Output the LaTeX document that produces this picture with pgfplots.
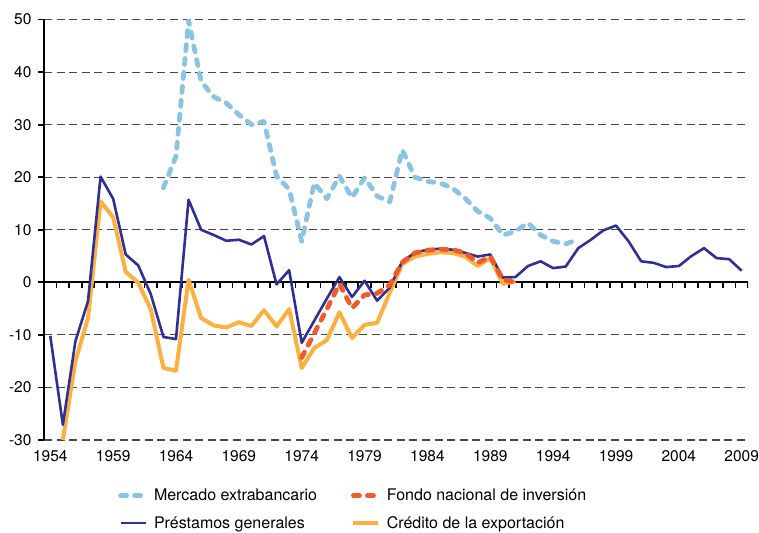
\documentclass[border=0pt]{standalone}
\usepackage{fontspec}
\setmainfont{TeX Gyre Heros}
\usepackage{pgfplots}
\pgfplotsset{compat=1.18}
\definecolor{cNavy}{HTML}{2E3192}
\definecolor{cOrange}{HTML}{FBB040}
\definecolor{cSky}{HTML}{8BC4E2}
\definecolor{cRed}{HTML}{F15A29}
\pgfplotstableread{
year val
1954 -10.2
1955 -27.1
1956 -11.2
1957 -3.6
1958 20.1
1959 15.9
1960 5.3
1961 3.2
1962 -2.3
1963 -10.4
1964 -10.8
1965 15.7
1966 10.0
1967 9.0
1968 7.9
1969 8.1
1970 7.2
1971 8.8
1972 -0.4
1973 2.3
1974 -11.5
1975 -7.3
1976 -3.1
1977 1.0
1978 -2.8
1979 0.3
1980 -3.5
1981 -1.0
1982 4.0
1983 5.6
1984 6.2
1985 6.4
1986 6.2
1987 5.6
1988 4.9
1989 5.3
1990 0.9
1991 1.0
1992 3.1
1993 4.0
1994 2.7
1995 3.0
1996 6.5
1997 8.1
1998 9.9
1999 10.8
2000 7.8
2001 4.0
2002 3.7
2003 2.9
2004 3.1
2005 5.0
2006 6.5
2007 4.6
2008 4.4
2009 2.2
}\prestamos
\pgfplotstableread{
year val
1955 -30.0
1956 -15.0
1957 -6.8
1958 15.4
1959 12.4
1960 2.0
1961 -0.1
1962 -5.2
1963 -16.3
1964 -16.8
1965 0.5
1966 -6.8
1967 -8.2
1968 -8.6
1969 -7.6
1970 -8.3
1971 -5.3
1972 -8.4
1973 -5.1
1974 -16.3
1975 -12.5
1976 -11.0
1977 -5.7
1978 -10.6
1979 -8.1
1980 -7.7
1981 -2.0
1982 3.5
1983 4.9
1984 5.4
1985 5.7
1986 5.6
1987 4.9
1988 3.1
1989 4.6
1990 -0.3
1991 0.2
}\credito
\pgfplotstableread{
year val
1974 -14.3
1975 -9.7
1976 -5.1
1977 -0.3
1978 -4.9
1979 -2.4
1980 -2.1
1981 -0.5
1982 3.8
1983 5.6
1984 6.1
1985 6.3
1986 6.2
1987 5.6
1988 3.7
1989 4.9
1990 0.5
1991 0.0
}\fondo
\pgfplotstableread{
year val
1963 18.0
1964 24.0
1965 49.8
1966 38.2
1967 35.3
1968 34.1
1969 31.9
1970 30.0
1971 30.6
1972 20.2
1973 17.7
1974 7.8
1975 18.9
1976 15.9
1977 20.2
1978 16.1
1979 19.9
1980 16.4
1981 15.3
1982 25.2
1983 20.0
1984 19.2
1985 18.9
1986 17.9
1987 16.0
1988 13.5
1989 12.2
1990 9.0
1991 9.7
1992 11.3
1993 9.0
1994 7.8
1995 7.3
1996 8.2
}\mercado
\begin{document}
\begin{tikzpicture}
\begin{axis}[
  name=ax,
  scale only axis, width=704pt, height=420.5pt,
  xmin=1953.5, xmax=2009.5, ymin=-30, ymax=50,
  axis x line*=bottom, axis y line*=left,
  x axis line style={draw=none},
  y axis line style={black, line width=2.2pt},
  xtick={1954,1959,...,2009},
  ytick={-30,-20,...,50},
  tick align=outside,
  major tick length=6pt,
  xtick style={draw=none},
  ytick style={black, line width=1.8pt},
  /pgf/number format/1000 sep={},
  /pgf/number format/assume math mode=true,
  ticklabel style={font=\fontsize{15.5}{18}\selectfont},
  yticklabel style={xshift=-3pt},
  xticklabel style={yshift=-1pt},
  ymajorgrids,
  grid style={black!72, line width=1.1pt, dash pattern=on 8pt off 4.6pt},
  clip=true,
  legend columns=2,
  legend cell align=left,
  legend image code/.code={\draw[#1] (0pt,0pt) -- (25pt,0pt);},
  legend style={at={(0,0)}, anchor=north west, xshift=74pt, yshift=-47pt,
    draw=none, fill=none, inner sep=0pt,
    font=\fontsize{16}{18}\selectfont,
    /tikz/every odd column/.append style={column sep=4pt},
    /tikz/every even column/.append style={column sep=32pt},
    row sep=10pt},
]
\addlegendimage{cSky, line width=4.8pt, line cap=round, dash pattern=on 6pt off 8pt}
\addlegendentry{Mercado extrabancario}
\addlegendimage{cRed, line width=4.8pt, line cap=round, dash pattern=on 6pt off 8pt}
\addlegendentry{Fondo nacional de inversión}
\addlegendimage{cNavy, line width=2.6pt}
\addlegendentry{Préstamos generales}
\addlegendimage{cOrange, line width=4pt}
\addlegendentry{Crédito de la exportación}

\draw[black, line width=2pt] (axis cs:1953.5,0) -- (axis cs:2009.5,0);
\pgfplotsinvokeforeach{1954.5,1955.5,...,2009.5}{
  \draw[black, line width=1.7pt] (axis cs:#1,0) -- ++(0pt,-6pt);
}
\addplot[forget plot, cOrange, line width=4pt, line join=round] table[x=year,y=val] {\credito};
\addplot[forget plot, cNavy, line width=2.6pt, line join=round] table[x=year,y=val] {\prestamos};
\addplot[forget plot, cSky, line width=4.8pt, line cap=round, line join=round, dash pattern=on 6pt off 8pt] table[x=year,y=val] {\mercado};
\addplot[forget plot, cRed, line width=4.8pt, line cap=round, line join=round, dash pattern=on 6pt off 8pt] table[x=year,y=val] {\fondo};
\end{axis}
\pgfresetboundingbox
\useasboundingbox ([xshift=-44pt,yshift=-92pt]ax.south west) rectangle ([xshift=11pt,yshift=19.5pt]ax.north east);
\end{tikzpicture}
\end{document}
